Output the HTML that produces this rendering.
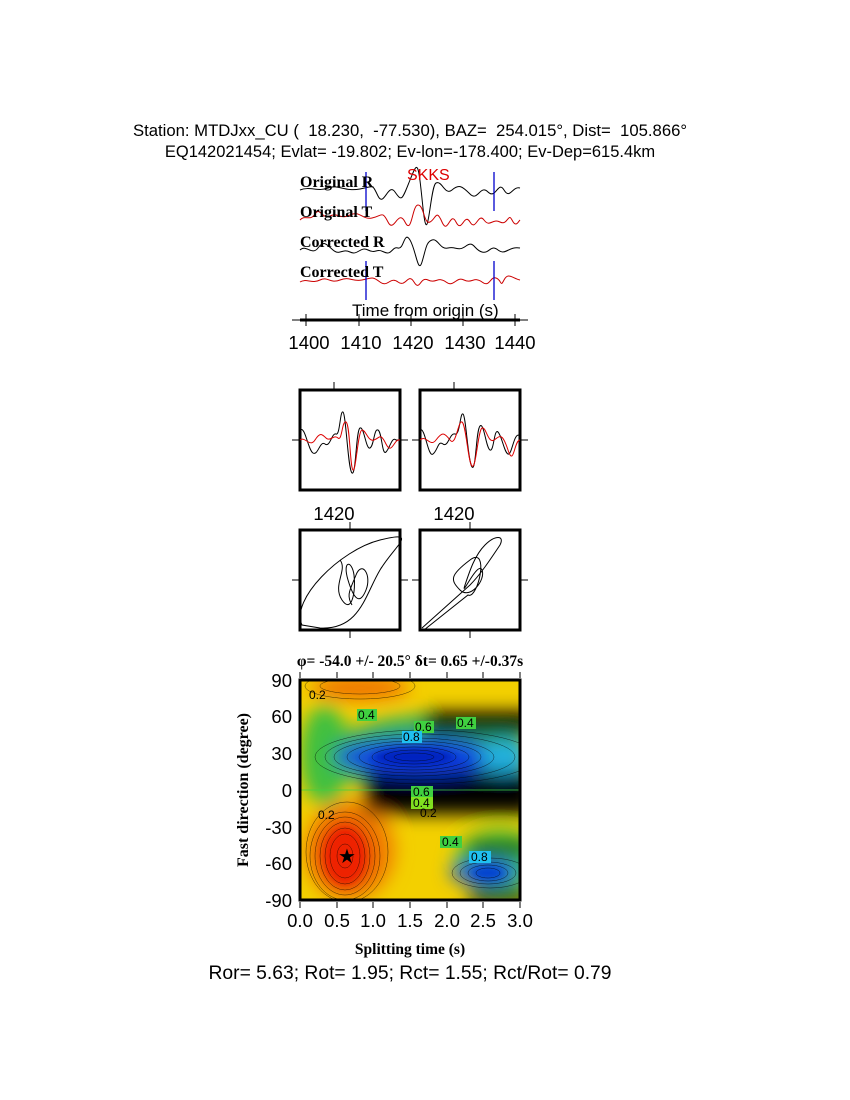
<!DOCTYPE html>
<html><head><meta charset="utf-8"><style>
html,body{margin:0;padding:0;background:#fff;}
svg{display:block;}
.h{font-family:"Liberation Sans",sans-serif;white-space:pre;}
.s{font-family:"Liberation Serif",serif;font-weight:bold;white-space:pre;}
</style></head><body>
<svg width="850" height="1100" viewBox="0 0 850 1100" xmlns="http://www.w3.org/2000/svg" xml:space="preserve">
<defs>
<filter id="bl" x="-50%" y="-50%" width="200%" height="200%"><feGaussianBlur stdDeviation="9"/></filter>
<filter id="bl2" x="-50%" y="-50%" width="200%" height="200%"><feGaussianBlur stdDeviation="4"/></filter>
<clipPath id="cp"><rect x="300" y="680" width="220" height="220"/></clipPath>
</defs>
<text class="h" x="410" y="136" font-size="16.7" text-anchor="middle">Station: MTDJxx_CU (  18.230,  -77.530), BAZ=  254.015°, Dist=  105.866°</text>
<text class="h" x="410" y="157" font-size="16.5" text-anchor="middle">EQ142021454; Evlat= -19.802; Ev-lon=-178.400; Ev-Dep=615.4km</text>

<g fill="none" stroke-width="1">
<path stroke="#000" d="M300,190 C310,186 318,192 328,188 S345,192 360,189 S372,184 378,196 S388,182 395,192 S402,200 410,180 S418,160 423,208 S430,186 436,183 S445,196 452,190 S462,186 470,194 S480,184 488,192 S498,180 504,190 S512,186 520,188"/>
<path stroke="#c00" d="M300,220 C305,214 310,222 315,214 S322,220 330,216 S340,220 350,215 S362,220 372,218 S382,210 388,222 S398,208 405,222 S412,205 418,205 S424,225 430,222 S436,208 442,222 S450,210 456,222 S464,212 470,222 S478,212 484,220 S492,218 500,222 S508,212 512,220 S518,222 520,220"/>
<path stroke="#000" d="M300,250 C306,244 312,256 318,248 S326,244 333,250 S342,248 350,252 S360,246 368,250 S376,248 384,252 S392,246 398,248 S404,230 410,240 S418,275 422,262 S426,242 432,240 S440,250 448,248 S458,252 466,246 S474,250 482,252 S490,244 498,250 S508,246 520,248"/>
<path stroke="#c00" d="M300,282 C306,278 312,284 320,280 S330,284 340,280 S352,282 362,280 S372,276 380,282 S390,276 398,282 S408,272 414,282 S420,276 428,280 S438,276 446,282 S456,276 464,280 S474,276 482,282 S490,276 496,278 S500,288 504,280 S512,278 520,280"/>
</g>
<g stroke="#00c" stroke-width="1.3">
<line x1="366" y1="172" x2="366" y2="211"/><line x1="494" y1="172" x2="494" y2="211"/>
<line x1="366" y1="261" x2="366" y2="300"/><line x1="494" y1="261" x2="494" y2="300"/>
</g>
<g class="s" font-size="16">
<text x="300" y="187">Original R</text><text x="300" y="217">Original T</text>
<text x="300" y="247">Corrected R</text><text x="300" y="277">Corrected T</text>
</g>
<text class="h" x="407" y="180" font-size="16" fill="#d00">SKKS</text>
<text class="h" x="352" y="316" font-size="17">Time from origin (s)</text>
<line x1="300" y1="320" x2="520" y2="320" stroke="#000" stroke-width="3"/>
<g stroke="#000" stroke-width="1">
<line x1="292" y1="320" x2="528" y2="320"/>
<line x1="306" y1="314" x2="306" y2="326"/><line x1="359" y1="314" x2="359" y2="326"/><line x1="411" y1="314" x2="411" y2="326"/><line x1="463" y1="314" x2="463" y2="326"/><line x1="515" y1="314" x2="515" y2="326"/>
</g>
<g class="h" font-size="18.5" text-anchor="middle">
<text x="309" y="349">1400</text><text x="361" y="349">1410</text><text x="413" y="349">1420</text><text x="465" y="349">1430</text><text x="515" y="349">1440</text>
</g>

<g fill="none" stroke="#000">
<rect x="300" y="390" width="100" height="100" stroke-width="3"/>
<rect x="420" y="390" width="100" height="100" stroke-width="3"/>
<rect x="300" y="530" width="100" height="100" stroke-width="3"/>
<rect x="420" y="530" width="100" height="100" stroke-width="3"/>
<g stroke-width="1">
<line x1="334" y1="382" x2="334" y2="390"/><line x1="454" y1="382" x2="454" y2="390"/>
<line x1="292" y1="440" x2="300" y2="440"/><line x1="400" y1="440" x2="408" y2="440"/>
<line x1="412" y1="440" x2="420" y2="440"/><line x1="520" y1="440" x2="528" y2="440"/>
<line x1="350" y1="522" x2="350" y2="530"/><line x1="470" y1="522" x2="470" y2="530"/>
<line x1="350" y1="630" x2="350" y2="638"/><line x1="470" y1="630" x2="470" y2="638"/>
<line x1="292" y1="580" x2="300" y2="580"/><line x1="400" y1="580" x2="408" y2="580"/>
<line x1="412" y1="580" x2="420" y2="580"/><line x1="520" y1="580" x2="528" y2="580"/>
</g>
<path stroke-width="1" d="M300,430 C305,425 308,450 313,453 S320,440 325,444 S332,432 336,434 S340,410 343,412 S348,470 352,473 S356,430 360,428 S366,450 370,448 S374,428 378,430 S382,456 386,452 S392,436 396,440 L400,440"/>
<path stroke="#d00" stroke-width="1" d="M300,440 C305,436 310,448 315,440 S322,434 326,438 S334,434 338,438 S342,420 346,422 S350,468 353,470 S358,430 362,430 S368,442 374,440 S380,432 386,444 S394,438 400,440"/>
<path stroke-width="1" d="M420,430 C425,426 428,458 433,454 S438,440 443,444 S450,432 455,434 S460,412 463,414 S468,462 472,467 S476,430 480,426 S486,448 490,450 S494,428 498,432 S504,452 508,454 S514,430 520,436"/>
<path stroke="#d00" stroke-width="1" d="M420,440 C426,434 430,448 436,440 S444,432 450,440 S458,420 462,422 S468,462 472,466 S478,430 482,428 S488,444 494,440 S502,432 508,450 S514,440 520,440"/>
<path stroke-width="1" d="M302,625 C290,600 340,550 380,540 S395,545 380,570 S360,630 320,628 Z"/>
<path stroke-width="1" d="M340,560 c8,10 -8,25 2,40 s14,-10 12,-25 s-12,-15 -6,5 s12,25 18,10 s-4,-30 -10,-15 s-10,20 -4,30"/>
<path stroke-width="1" d="M422,628 L470,585 C480,575 490,560 500,545 C505,535 495,535 485,545 S470,570 465,585 S478,560 482,570 S470,600 460,590 S450,575 470,560 S478,600 468,595 L424,630"/>
</g>
<g class="h" font-size="18.5" text-anchor="middle"><text x="334" y="520">1420</text><text x="454" y="520">1420</text></g>

<text class="s" x="410" y="666" font-size="15.5" text-anchor="middle">φ= -54.0 +/- 20.5° δt= 0.65 +/-0.37s</text>
<g clip-path="url(#cp)">
<rect x="300" y="680" width="220" height="220" fill="#f3d000"/>
<g filter="url(#bl)">
<ellipse cx="350" cy="850" rx="45" ry="50" fill="#f08000"/>
<ellipse cx="345" cy="855" rx="28" ry="36" fill="#e83000"/>
<ellipse cx="360" cy="688" rx="50" ry="12" fill="#f07000"/>
<ellipse cx="325" cy="755" rx="25" ry="50" fill="#40c040"/>
<ellipse cx="430" cy="755" rx="100" ry="40" fill="#30b060"/>
<ellipse cx="500" cy="860" rx="45" ry="30" fill="#40c040"/>
<rect x="365" y="772" width="170" height="42" fill="#000"/>
<rect x="425" y="712" width="110" height="22" fill="#000"/>
<ellipse cx="420" cy="757" rx="85" ry="18" fill="#1040e0"/>
<ellipse cx="505" cy="757" rx="25" ry="16" fill="#20b0e0"/>
<ellipse cx="485" cy="872" rx="35" ry="12" fill="#1050e0"/>
<rect x="470" y="842" width="60" height="12" fill="#000"/>
<rect x="470" y="890" width="60" height="14" fill="#000"/>
</g>
<g filter="url(#bl2)">
<ellipse cx="345" cy="856" rx="20" ry="28" fill="#ee2000"/>
<ellipse cx="414" cy="757" rx="40" ry="9" fill="#0020c0"/>
<ellipse cx="488" cy="873" rx="16" ry="6" fill="#0040d0"/>
</g>
<g fill="none" stroke="#000" stroke-width="0.5" opacity="0.7">
<ellipse cx="345" cy="856" rx="8" ry="12"/><ellipse cx="345" cy="856" rx="15" ry="22"/><ellipse cx="345" cy="856" rx="20" ry="28"/><ellipse cx="345" cy="856" rx="25" ry="34"/><ellipse cx="345" cy="856" rx="30" ry="39"/><ellipse cx="345" cy="856" rx="35" ry="44"/><ellipse cx="347" cy="852" rx="41" ry="50"/>
<ellipse cx="414" cy="757" rx="20" ry="4"/><ellipse cx="414" cy="757" rx="30" ry="7"/><ellipse cx="414" cy="757" rx="42" ry="10"/><ellipse cx="414" cy="757" rx="55" ry="13"/><ellipse cx="414" cy="757" rx="67" ry="16"/><ellipse cx="414" cy="757" rx="80" ry="19"/><ellipse cx="420" cy="757" rx="95" ry="23"/><ellipse cx="425" cy="757" rx="110" ry="27"/>
<ellipse cx="488" cy="873" rx="12" ry="5"/><ellipse cx="488" cy="873" rx="20" ry="8"/><ellipse cx="488" cy="873" rx="28" ry="11"/><ellipse cx="490" cy="873" rx="38" ry="15"/>
<ellipse cx="360" cy="686" rx="40" ry="8"/><ellipse cx="360" cy="686" rx="55" ry="13"/>
</g>
<g stroke="#40d040" stroke-width="0.7"><line x1="300" y1="790" x2="520" y2="790"/></g>
</g>
<rect x="300" y="680" width="220" height="220" fill="none" stroke="#000" stroke-width="3"/>
<g stroke="#000" stroke-width="1">
<line x1="300" y1="678" x2="300" y2="672"/><line x1="337" y1="678" x2="337" y2="672"/><line x1="373" y1="678" x2="373" y2="672"/><line x1="410" y1="678" x2="410" y2="672"/><line x1="447" y1="678" x2="447" y2="672"/><line x1="483" y1="678" x2="483" y2="672"/><line x1="520" y1="678" x2="520" y2="672"/>
<line x1="300" y1="902" x2="300" y2="908"/><line x1="337" y1="902" x2="337" y2="908"/><line x1="373" y1="902" x2="373" y2="908"/><line x1="410" y1="902" x2="410" y2="908"/><line x1="447" y1="902" x2="447" y2="908"/><line x1="483" y1="902" x2="483" y2="908"/><line x1="520" y1="902" x2="520" y2="908"/>
</g>
<text x="347" y="863" font-size="20" text-anchor="middle">★</text>
<g class="h" font-size="12">
<rect x="357" y="709" width="20" height="12" fill="#40d040"/><text x="358" y="719">0.4</text>
<rect x="456" y="717" width="20" height="12" fill="#40d040"/><text x="457" y="727">0.4</text>
<rect x="414" y="721" width="20" height="12" fill="#40d040"/><text x="415" y="731">0.6</text>
<rect x="402" y="731" width="20" height="12" fill="#20c0f0"/><text x="403" y="741">0.8</text>
<rect x="411" y="786" width="22" height="12" fill="#40d040"/><text x="413" y="796">0.6</text>
<rect x="411" y="797" width="22" height="12" fill="#80e020"/><text x="413" y="807">0.4</text>
<rect x="469" y="851" width="22" height="12" fill="#20c0f0"/><text x="471" y="861">0.8</text>
<rect x="440" y="836" width="22" height="12" fill="#40d040"/><text x="442" y="846">0.4</text>
<text x="309" y="699">0.2</text><text x="318" y="819">0.2</text><text x="420" y="817">0.2</text>
</g>
<g class="h" font-size="18.5" text-anchor="end">
<text x="292" y="687">90</text><text x="292" y="723">60</text><text x="292" y="760">30</text><text x="292" y="797">0</text><text x="292" y="834">-30</text><text x="292" y="870">-60</text><text x="292" y="907">-90</text>
</g>
<g class="h" font-size="18.5" text-anchor="middle">
<text x="300" y="927">0.0</text><text x="337" y="927">0.5</text><text x="373" y="927">1.0</text><text x="410" y="927">1.5</text><text x="447" y="927">2.0</text><text x="483" y="927">2.5</text><text x="520" y="927">3.0</text>
</g>
<text class="s" x="410" y="954" font-size="15.5" text-anchor="middle">Splitting time (s)</text>
<text class="s" x="0" y="0" font-size="16" text-anchor="middle" transform="translate(248,790) rotate(-90)">Fast direction (degree)</text>
<text class="h" x="410" y="979" font-size="19.3" text-anchor="middle">Ror= 5.63; Rot= 1.95; Rct= 1.55; Rct/Rot= 0.79</text>
</svg>
</body></html>
